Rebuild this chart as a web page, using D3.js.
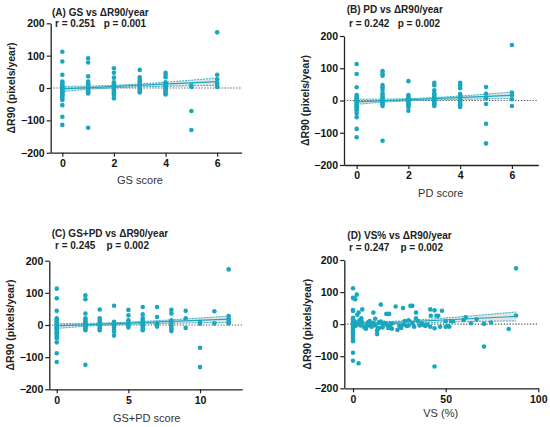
<!DOCTYPE html>
<html>
<head>
<meta charset="utf-8">
<script src="https://cdn.jsdelivr.net/npm/d3@7"></script>
<style>
  body { margin: 0; background: #fff; }
  svg { display: block; font-family: "Liberation Sans", Arial, sans-serif; }
</style>
</head>
<body>
<svg id="chart" width="550" height="427"></svg>
<script>

// (A) GS score columns
var gsX = [0, 1, 2, 3, 4, 5, 6]
var gsY = [
    [112, 82, 41, 20, 16, 12, 8, 5, 2, 0, -2, -4, -6, -8, -10, -13, -16, -20, -24, -28, -33, -37, -53, -89, -114],
    [92, 79, 36, 20, 15, 11, 8, 5, 2, 0, -3, -6, -10, -14, -17, -123],
    [61, 47, 32, 18, 13, 8, 4, 0, -4, -8, -13, -18, -22, -32],
    [56, 33, 25, 20, 15, 10, 6, 2, -2, -6, -10, -14],
    [47, 41, 33, 18, 13, 8, 4, 0, -4, -8, -13, -17, -20],
    [8, 3, -71, -130],
    [172, 41, 27, 15, 7, 3]
]

// (B) PD score columns
var pdX = [0, 1, 2, 3, 4, 5, 6]
var pdY = [
    [113, 82, 41, 17, 12, 8, 4, 0, -3, -6, -10, -14, -18, -22, -26, -30, -40, -52, -88, -114],
    [91, 82, 77, 48, 41, 33, 22, 17, 12, 8, 4, 0, -4, -8, -12, -17, -125],
    [60, 17, 12, 7, 3, 0, -4, -8, -12, -16, -20, -32],
    [55, 47, 32, 22, 17, 12, 8, 4, 0, -4, -8, -12, -17],
    [55, 47, 38, 20, 15, 10, 5, 0, -5, -10, -15, -20],
    [42, 21, 7, -11, -72, -133],
    [172, 25, 16, 4, -17]
]

// (C) GS+PD score columns
var gspdX = [0, 2, 3, 4, 5, 6, 7, 8, 9, 10, 11, 12]
var gspdY = [
    [113, 83, 44, 21, 16, 12, 8, 4, 0, -3, -6, -10, -14, -18, -22, -26, -30, -36, -41, -54, -88, -115],
    [92, 80, 36, 21, 16, 12, 8, 4, 0, -4, -8, -12, -16, -124],
    [48, 21, 14, 8, 3, -2, -8, -12, -16],
    [60, 10, 4, -2, -8, -14, -21, -33],
    [47, 30, 15, 8, 3, -2, -8],
    [56, 33, 21, 15, 9, 4, -1, -6, -11, -16],
    [56, 25, 5, 0, -5],
    [47, 36, 15, 9, 3, -3, -9, -14, -19],
    [44, 21, -9],
    [9, 4, -71, -131],
    [43, 5],
    [173, 28, 19, 12, 5]
]

// (D) VS% scatter
var vsX = [0, 0, 0.5, 0, 0, 0, 0, 0, 0, 0, 0, 0, 0, 0, 0, 0, 0, 0, 0, 0, 0, 0, 0,
    1, 1.5, 2, 1.2, 2.3, 3, 3, 3.5, 2.5, 4, 4.5, 5, 5, 6, 7, 7.5, 8, 8.7, 9, 9, 10, 11, 11, 12, 12,
    13, 13, 13.5, 14, 14, 15, 15, 16, 16, 17, 18, 18, 19, 19.5, 20, 21, 21, 23, 24, 25, 26, 27,
    27, 28, 29, 30, 30, 31, 32, 32, 33, 34, 34, 35, 36, 37, 38, 39, 40, 41.7, 41.7, 42, 44, 44,
    44, 45, 46, 47, 48, 50, 50, 51, 52, 53, 54, 59.7, 60.8, 63.7, 66.7, 70.7, 70.7, 74.5, 84, 88, 88]
var vsY = [112, 82, 80, 44, 41, 20, 15, 10, 6, 2, -2, -6, -10, -15, -20, -25, -30, -36, -42, -49, -53, -89, -114,
    8, -5, 92, 78, 29, 36, -122, 12, 2, -4, 18, 46, 6, -10, -14, -6, 5, 5, -3, 10, -8, 36, 4, -4, 17,
    -31, -20, -13, -12, 6, 61, 8, 0, -10, 4, -2, 32, -12, 32, -6, -14, 2, 55, -18, -5, -12, 50,
    -2, 10, -6, 12, -4, 57, 57, 2, -8, 36, 18, 10, -4, 3, -2, -6, -2, 46, -8, 26, 43, -13,
    -132, 26, 26, -8, 42, 9, -8, -6, -8, 9, 9, 13, 21, 3, 15, 1, -70, 5, -15, 174, 27]

// regression line and 95% band
var gsFitX = [0, 1.5, 6],  gsFitLo = [-11, -1.5, 8],  gsFitMid = [-3, 2.7, 20],  gsFitHi = [5, 7, 31]
var pdFitX = [0, 1.5, 6],  pdFitLo = [-12, -3, 6],    pdFitMid = [-4, 1, 16],    pdFitHi = [4, 5, 26]
var gspdFitX = [0, 3, 12], gspdFitLo = [-11, -1.5, 8], gspdFitMid = [-3, 2.3, 18], gspdFitHi = [4, 6, 28]
var vsFitX = [0, 15, 88],  vsFitLo = [-6, -0.5, 10],  vsFitMid = [-1, 3.3, 24],   vsFitHi = [4, 7, 38]

var yTicks = [-200, -100, 0, 100, 200]

function flatten(xs, cols) {
    var pts = []
    xs.forEach(function(x, i) {
        cols[i].forEach(function(y) { pts.push([x, y]) })
    })
    return pts
}

var teal = "#1aa6bf"

var panels = [
    { title: "(A) GS vs \u0394R90/year", stat: "r = 0.251   p = 0.001", xlabel: "GS score",
      pts: flatten(gsX, gsY), xdom: [-0.45, 6.95], xr: [50.7, 241.7], yr: [152.7, 23.3],
      xticks: [0, 2, 4, 6], fx: gsFitX, lo: gsFitLo, mid: gsFitMid, hi: gsFitHi,
      tpos: [52, 15.5], spos: [55, 26.5], xlab: [140, 184], ylab: 11 },
    { title: "(B) PD vs \u0394R90/year", stat: "r = 0.242   p = 0.002", xlabel: "PD score",
      pts: flatten(pdX, pdY), xdom: [-0.49, 7.02], xr: [344, 538.3], yr: [165, 36],
      xticks: [0, 2, 4, 6], fx: pdFitX, lo: pdFitLo, mid: pdFitMid, hi: pdFitHi,
      tpos: [346.7, 13], spos: [349, 26.5], xlab: [440.7, 196.5], ylab: 305 },
    { title: "(C) GS+PD vs \u0394R90/year", stat: "r = 0.245    p = 0.002", xlabel: "GS+PD score",
      pts: flatten(gspdX, gspdY), xdom: [-0.52, 12.95], xr: [49.3, 242.3], yr: [389.3, 260.7],
      xticks: [0, 5, 10], fx: gspdFitX, lo: gspdFitLo, mid: gspdFitMid, hi: gspdFitHi,
      tpos: [51.7, 236.5], spos: [55, 249], xlab: [146.7, 422], ylab: 9.5 },
    { title: "(D) VS% vs \u0394R90/year", stat: "r = 0.247    p = 0.002", xlabel: "VS (%)",
      pts: vsX.map(function(x, i) { return [x, vsY[i]] }), xdom: [-4.7, 100], xr: [344.3, 538.3], yr: [388.3, 260],
      xticks: [0, 50, 100], fx: vsFitX, lo: vsFitLo, mid: vsFitMid, hi: vsFitHi,
      tpos: [347.3, 239], spos: [349, 250.5], xlab: [440.7, 417], ylab: 306.7 }
]

var svg = d3.select("#chart")

panels.forEach(function(p) {
    var x = d3.scaleLinear().domain(p.xdom).range(p.xr)
    var y = d3.scaleLinear().domain([-200, 200]).range(p.yr)
    var g = svg.append("g")

    var band = p.fx.map(function(v, i) { return [v, p.lo[i], p.mid[i], p.hi[i]] })

    // confidence band fill
    g.append("path")
        .datum(band)
        .attr("d", d3.area().curve(d3.curveMonotoneX)
            .x(function(d) { return x(d[0]) })
            .y0(function(d) { return y(d[1]) })
            .y1(function(d) { return y(d[3]) }))
        .attr("fill", "#d9d9d9")
        .attr("opacity", 0.7)

    // zero reference
    g.append("line")
        .attr("x1", p.xr[0]).attr("x2", p.xr[1])
        .attr("y1", y(0)).attr("y2", y(0))
        .attr("stroke", "#555")
        .attr("stroke-width", 1.1)
        .attr("stroke-dasharray", "1.3,1.6")

    g.selectAll("circle")
        .data(p.pts)
        .enter().append("circle")
        .attr("cx", function(d) { return x(d[0]) })
        .attr("cy", function(d) { return y(d[1]) })
        .attr("r", 2.3)
        .attr("fill", teal)

    // band edges dotted, fit solid
    ;[1, 3].forEach(function(k) {
        g.append("path")
            .datum(band)
            .attr("d", d3.line().curve(d3.curveMonotoneX)
                .x(function(d) { return x(d[0]) })
                .y(function(d) { return y(d[k]) }))
            .attr("fill", "none")
            .attr("stroke", teal)
            .attr("stroke-width", 0.9)
            .attr("stroke-dasharray", "2,1")
    })
    g.append("path")
        .datum([band[0], band[band.length - 1]])
        .attr("d", d3.line()
            .x(function(d) { return x(d[0]) })
            .y(function(d) { return y(d[2]) }))
        .attr("fill", "none")
        .attr("stroke", teal)
        .attr("stroke-width", 1.2)

    // axes
    var yAxis = d3.axisLeft(y).tickValues(yTicks).tickSize(4).tickSizeOuter(0).tickPadding(2)
        .tickFormat(function(d) { return d < 0 ? "\u2212" + Math.abs(d) : d })
    var xAxis = d3.axisBottom(x).tickValues(p.xticks).tickSize(4).tickSizeOuter(0).tickPadding(3)

    var ya = g.append("g")
        .attr("transform", "translate(" + p.xr[0] + ",0)")
        .call(yAxis)
    var xa = g.append("g")
        .attr("transform", "translate(0," + p.yr[0] + ")")
        .call(xAxis)

    ;[ya, xa].forEach(function(a) {
        a.select(".domain").attr("stroke", "#222").attr("stroke-width", 1.3)
        a.selectAll(".tick line").attr("stroke", "#222").attr("stroke-width", 1.2)
        a.selectAll(".tick text")
            .attr("fill", "#111")
            .style("font-size", "10.5px")
            .style("font-weight", "bold")
            .style("font-family", "'Liberation Sans', Arial, sans-serif")
    })

    g.append("text")
        .attr("x", p.tpos[0]).attr("y", p.tpos[1])
        .attr("fill", "#222")
        .style("font-size", "10px")
        .style("font-weight", "bold")
        .text(p.title)

    g.append("text")
        .attr("x", p.spos[0]).attr("y", p.spos[1])
        .attr("fill", "#222")
        .attr("xml:space", "preserve")
        .style("white-space", "pre")
        .style("font-size", "10px")
        .style("font-weight", "bold")
        .text(p.stat)

    g.append("text")
        .attr("x", p.xlab[0]).attr("y", p.xlab[1])
        .attr("text-anchor", "middle")
        .attr("fill", "#333")
        .style("font-size", "11px")
        .text(p.xlabel)

    var yc = (p.yr[0] + p.yr[1]) / 2
    g.append("text")
        .attr("transform", "translate(" + (p.ylab + 4) + "," + yc + ") rotate(-90)")
        .attr("text-anchor", "middle")
        .attr("fill", "#222")
        .style("font-size", "10.5px")
        .style("font-weight", "bold")
        .text("\u0394R90 (pixels/year)")
})

</script>
</body>
</html>
